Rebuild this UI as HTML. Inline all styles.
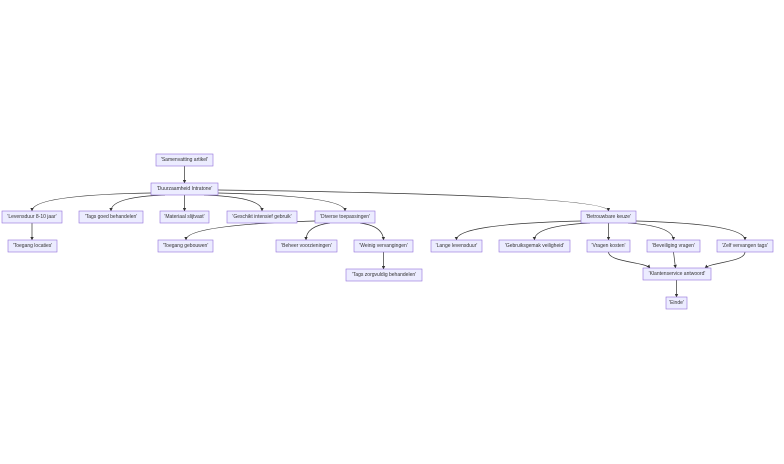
<!DOCTYPE html>
<html><head><meta charset="utf-8"><style>
html,body{margin:0;padding:0;background:#fff;}
svg{display:block;}
text{font-family:"Liberation Sans",sans-serif;font-size:5px;fill:#333;text-anchor:middle;dominant-baseline:central;}
rect{fill:#ECECFF;stroke:#9370DB;stroke-width:0.6;}
path{fill:none;stroke:#333;stroke-width:0.7;}
</style></head><body>
<svg width="784" height="464" viewBox="0 0 784 464">
<defs><marker id="a" viewBox="0 0 10 10" refX="9" refY="5" markerWidth="5" markerHeight="5" orient="auto"><path d="M0,0 L10,5 L0,10 z" style="fill:#333;stroke:none"/></marker></defs>
<g marker-end="url(#a)">
<path d="M184.5,166 L184.5,183"/>
<path d="M151,193 Q32,195 32,211"/>
<path d="M165,195 Q111,197 111,211"/>
<path d="M184.5,195 L184.5,211"/>
<path d="M204,195 Q262,197 262,211"/>
<path d="M218,193 Q345,196 345,211"/>
<path d="M218,190 Q608,195 608.5,211"/>
<path d="M32,223 L32,240"/>
<path d="M315,221 Q186,225 186,240"/>
<path d="M330,223 Q306,226 306,240"/>
<path d="M360,223 Q383,226 383.5,240"/>
<path d="M383.5,252 L383.5,269"/>
<path d="M581,221 Q456,224 456.5,240"/>
<path d="M590,223 Q534,226 534.5,240"/>
<path d="M608.5,223 L608.5,240"/>
<path d="M628,223 Q673,226 673.5,240"/>
<path d="M636,221 Q745,224 745,240"/>
<path d="M608.5,252 C608.5,262 645,262 650,268"/>
<path d="M673.5,252 L675.5,268"/>
<path d="M745,252 C745,262 712,262 705,268"/>
<path d="M676.5,280 L676.5,297"/>
</g>
<rect x="156" y="154" width="57" height="12"/><text x="184.5" y="160">'Samenvatting artikel'</text>
<rect x="151" y="183" width="67" height="12"/><text x="184.5" y="189">'Duurzaamheid Intratone'</text>
<rect x="2" y="211" width="60" height="12"/><text x="32" y="217">'Levensduur 8-10 jaar'</text>
<rect x="79" y="211" width="64" height="12"/><text x="111" y="217">'Tags goed behandelen'</text>
<rect x="160" y="211" width="49" height="12"/><text x="184.5" y="217">'Materiaal slijtvast'</text>
<rect x="227" y="211" width="70" height="12"/><text x="262" y="217">'Geschikt intensief gebruik'</text>
<rect x="315" y="211" width="60" height="12"/><text x="345" y="217">'Diverse toepassingen'</text>
<rect x="581" y="211" width="55" height="12"/><text x="608.5" y="217">'Betrouwbare keuze'</text>
<rect x="8" y="240" width="49" height="12"/><text x="32.5" y="246">'Toegang locaties'</text>
<rect x="158" y="240" width="55" height="12"/><text x="185.5" y="246">'Toegang gebouwen'</text>
<rect x="276" y="240" width="61" height="12"/><text x="306.5" y="246">'Beheer voorzieningen'</text>
<rect x="354" y="240" width="59" height="12"/><text x="383.5" y="246">'Weinig vervangingen'</text>
<rect x="431" y="240" width="51" height="12"/><text x="456.5" y="246">'Lange levensduur'</text>
<rect x="499" y="240" width="71" height="12"/><text x="534.5" y="246">'Gebruiksgemak veiligheid'</text>
<rect x="587" y="240" width="43" height="12"/><text x="608.5" y="246">'Vragen kosten'</text>
<rect x="647" y="240" width="53" height="12"/><text x="673.5" y="246">'Beveiliging vragen'</text>
<rect x="717" y="240" width="56" height="12"/><text x="745" y="246">'Zelf vervangen tags'</text>
<rect x="346" y="269" width="76" height="12"/><text x="384" y="275">'Tags zorgvuldig behandelen'</text>
<rect x="643" y="268" width="68" height="12"/><text x="677" y="274">'Klantenservice antwoord'</text>
<rect x="666" y="297" width="21" height="12"/><text x="676.5" y="303">'Einde'</text>
</svg>
</body></html>
